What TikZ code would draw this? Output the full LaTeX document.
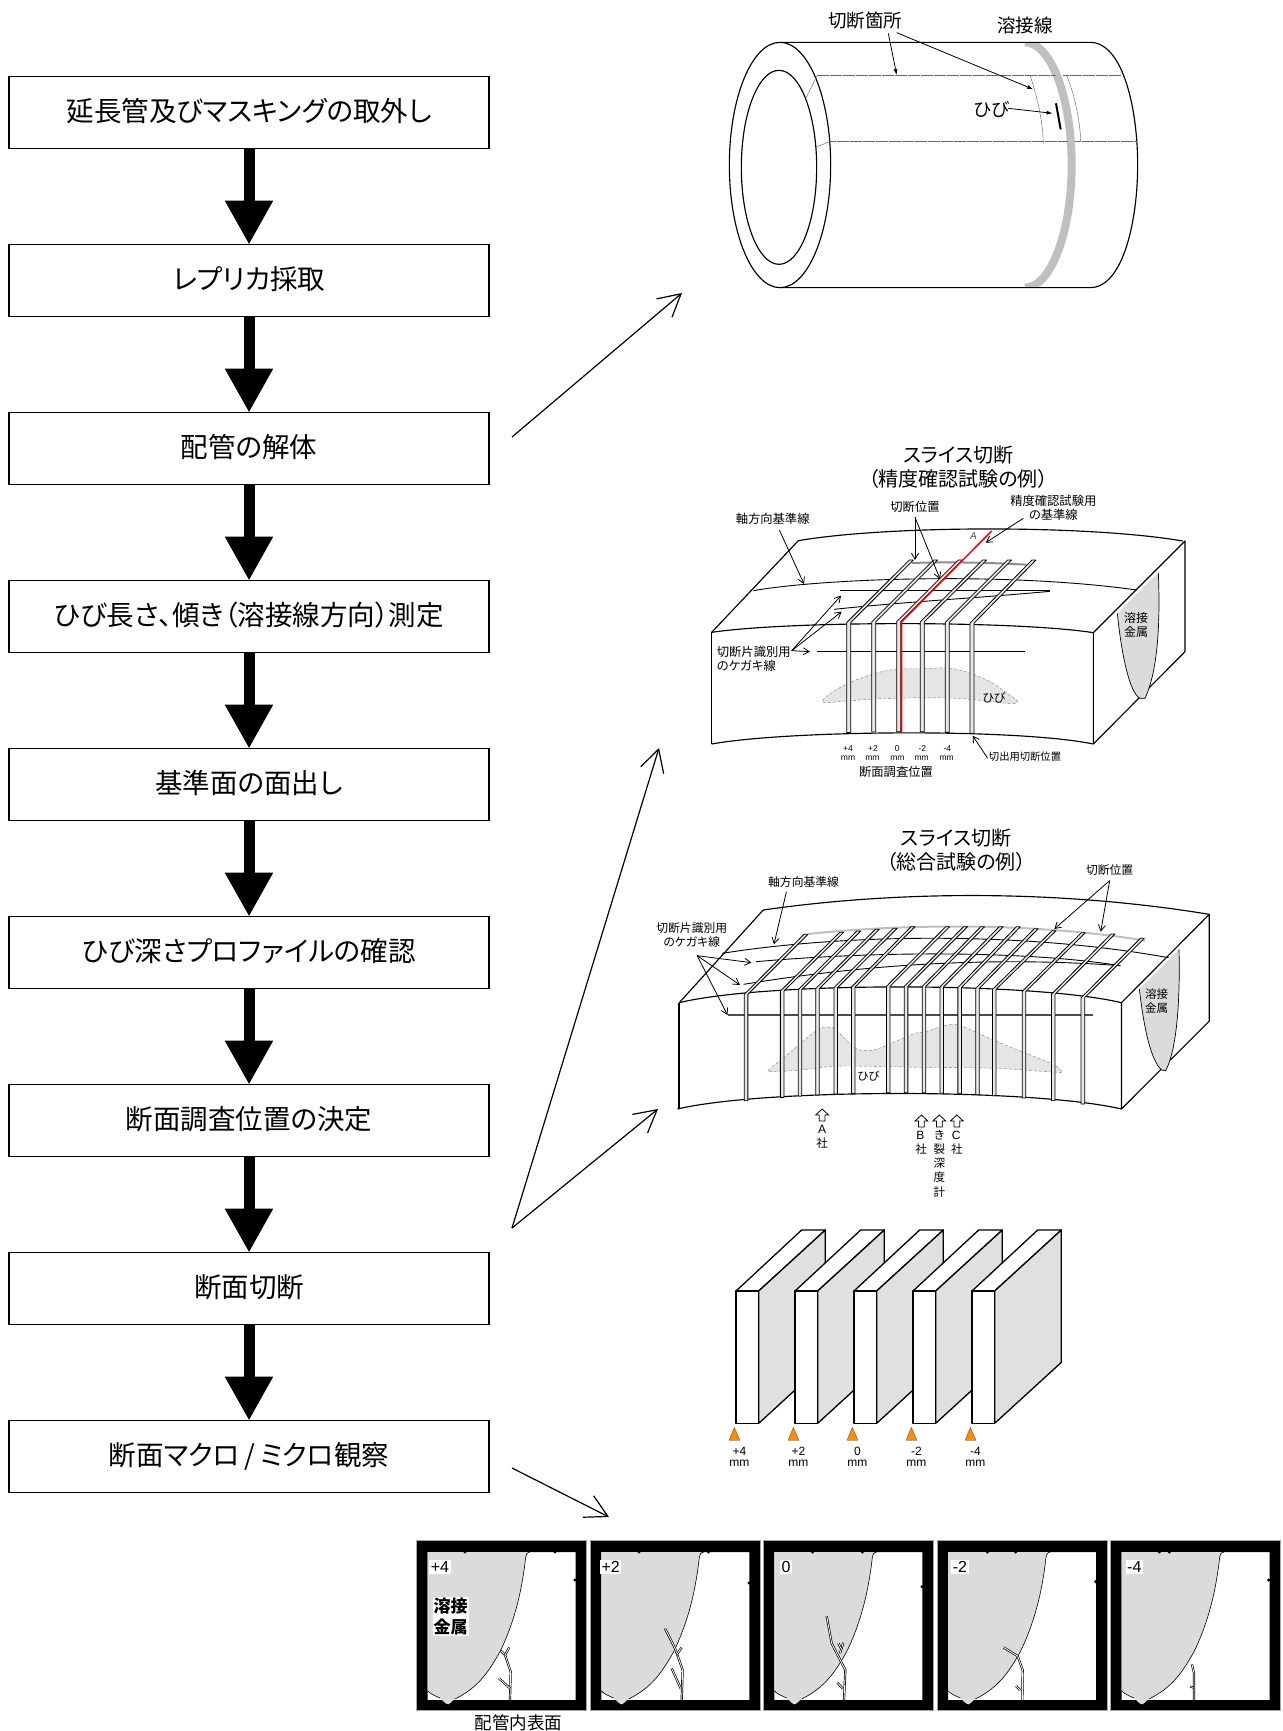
\documentclass[tikz,border=0pt]{standalone}
\usepackage{fontspec}
\setmainfont{Noto Sans CJK JP}[RawFeature=+palt]
\newfontfamily\arialfont{Liberation Sans}
\usetikzlibrary{arrows.meta,calc}
\newcommand\fs[2]{\fontsize{#1}{#2}\selectfont}
\tikzset{
  flowbox/.style={draw,line width=1.2pt,minimum width=480pt,minimum height=72pt,inner sep=0pt,outer sep=0pt,font=\fs{27.5}{30},text height=21pt,text depth=4pt},
  flowarrow/.style={line width=11pt,-{Triangle[width=45pt,length=44pt]}},
  bigarrow/.style={line width=1.2pt,-{Straight Barb[length=22pt,width=24pt,line width=1.2pt]}},
  lead/.style={line width=.8pt,-{Straight Barb[length=6pt,width=7pt]}},
  solidlead/.style={line width=.8pt,-{Latex[length=6pt,width=4pt]}},
  edge/.style={line width=1.15pt,line join=round},
  thinline/.style={line width=.45pt,draw=black!60,dash pattern=on 6pt off .5pt},
  slit/.style={draw,line width=.8pt,fill=black!9,line join=round},
  weldfill/.style={fill=black!14},
  crackfill/.style={fill=black!10,draw=black!50,line width=.4pt,densely dashed},
  lbl/.style={inner sep=0pt,align=center},
  crackline/.style={double=white,double distance=.8pt,line width=.7pt,line join=round,line cap=butt},
  blockedge/.style={line width=1.3pt,line join=round},
  ori/.style={fill=orange!90!yellow,draw=black!70,line width=.3pt},
  upa/.style={draw,fill=white,line width=.8pt,line join=miter},
  dot/.style={fill=black},
  zoomthree/.style={x=.33333pt,y=-.33333pt},
  zoomtwo/.style={x=.35714pt,y=-.33333pt}
}
\begin{document}
\begin{tikzpicture}[x=1pt,y=-1pt]
\path[use as bounding box,fill=white] (0,0) rectangle (1282,1731);

% ---------- flow
\node[flowbox] (b1) at (249,112.7) {延長管及びマスキングの取外し};
\node[flowbox] (b2) at (249,280.7) {レプリカ採取};
\node[flowbox] (b3) at (249,448.7) {配管の解体};
\node[flowbox] (b4) at (249,616.7) {ひび長さ、傾き（溶接線方向）測定};
\node[flowbox] (b5) at (249,784.7) {基準面の面出し};
\node[flowbox] (b6) at (249,952.7) {ひび深さプロファイルの確認};
\node[flowbox] (b7) at (249,1120.7) {断面調査位置の決定};
\node[flowbox] (b8) at (249,1288.7) {断面切断};
\node[flowbox] (b9) at (249,1456.7) {断面マクロ\,/\,ミクロ観察};
\foreach \p/\q in {b1/b2,b2/b3,b3/b4,b4/b5,b5/b6,b6/b7,b7/b8,b8/b9}
  \draw[flowarrow] (\p) -- (\q);

% long arrows
\coordinate (a1s) at (512,437); \coordinate (a1e) at (682,293);
\coordinate (a2s) at (512,1228); \coordinate (a2e) at (659,748);
\coordinate (a3e) at (658,1109);
\coordinate (a4s) at (512,1468); \coordinate (a4e) at (609,1517);
\draw[bigarrow] (a1s) -- (a1e);
\draw[bigarrow] (a2s) -- (a2e);
\draw[bigarrow] (a2s) -- (a3e);
\draw[bigarrow] (a4s) -- (a4e);

% ---------- pipe (zoom 1)
\begin{scope}[shift={(700,0)},zoomthree]
  \begin{scope}
    \clip (900,127) rectangle (1200,863);
    \draw[line width=8pt,draw=black!25] (975,127) .. controls (1052,127) and (1115,293) .. (1115,495) .. controls (1115,697) and (1052,863) .. (975,863);
  \end{scope}
  \draw[edge] (240,127) -- (1170,127) .. controls (1270,127) and (1313,330) .. (1313,495) .. controls (1313,660) and (1270,863) .. (1170,863) -- (240,863);
  \draw[edge,fill=white] (240,495) ellipse [x radius=152,y radius=368];
  \draw[edge,fill=white] (237,502) ellipse [x radius=113,y radius=291];
  \draw[thinline] (350,226) -- (1068,226);
  \draw[thinline] (1090,226) -- (1265,226);
  \draw[thinline] (390,424) -- (1105,424);
  \draw[thinline] (1125,424) -- (1310,424);
  \draw[thinline] (350,228) -- (318,295);
  \draw[thinline] (390,424) -- (348,442);
  \draw[thinline] (990,226) .. controls (1015,300) and (1028,370) .. (1030,430);
  \draw[thinline] (1100,226) .. controls (1125,290) and (1140,360) .. (1142,424);
  \draw[line width=2pt] (1068,310) -- (1082,388);
  \node[lbl,font=\fs{18.5}{20}] (p1) at (495,62) {切断箇所};
  \node[lbl,font=\fs{18.5}{20}] (p2) at (975,75) {溶接線};
  \node[lbl,font=\fs{18.5}{20}] (p3) at (875,330) {ひび};
  \coordinate (p1a) at (565,100); \coordinate (p1b) at (590,98);
  \draw[solidlead] (p1a) -- (590,225);
  \draw[solidlead] (p1b) -- (1000,268);
  \draw[solidlead] (925,325) -- (1058,340);
\end{scope}

% ---------- slice 1 (zoom 2)
\begin{scope}[shift={(690,430)},zoomthree]
  \draw[line width=.9pt] (190,482) .. controls (400,445) and (950,425) .. (1340,480);
  \draw[line width=.9pt] (450,482) -- (1080,482);
  \draw[line width=.9pt] (432,538) .. controls (650,515) and (850,505) .. (1080,484);
  \draw[line width=.9pt] (380,665) -- (1005,665);
  \draw[line width=2pt,draw=black!45] (665,399) .. controls (780,395) and (900,398) .. (1010,404);
  % block
  \draw[edge] (65,607) .. controls (300,572) and (980,572) .. (1210,608) -- (1210,942);
  \draw[edge] (65,942) .. controls (300,900) and (980,895) .. (1210,942);
  \draw[line width=1.6pt] (65,607) -- (65,942);
  \draw[edge] (65,607) -- (325,332) .. controls (600,285) and (1200,285) .. (1478,333);
  \draw[edge] (1210,608) -- (1485,333) -- (1485,665) -- (1210,942);
  % weld
  \fill[weldfill] (1405,428) -- (1282,550) .. controls (1295,680) and (1320,790) .. (1350,805) -- (1365,805) .. controls (1400,730) and (1412,600) .. (1405,428) -- cycle;
  \draw[line width=.7pt] (1282,550) .. controls (1295,680) and (1320,790) .. (1350,805) -- (1365,805) .. controls (1400,730) and (1412,600) .. (1405,428);
  \node[lbl,font=\fs{12}{14}] (w1) at (1338,585) {溶接\\金属};
  % crack
  \draw[crackfill] plot[smooth cycle,tension=.6] coordinates {(397,815) (470,762) (590,722) (700,716) (790,716) (880,745) (945,785) (975,820) (800,805) (600,805) (480,812)};
  \node[lbl,font=\fs{12}{14}] (c1) at (912,803) {ひび};
  % slits
  \foreach \a/\e in {476/665,551/738,626/812,697/885,772/960,846/1033}{
    \pgfmathsetmacro\uu{(\a-637)/572}
    \pgfmathsetmacro\yt{575+33*\uu*\uu}
    \pgfmathsetmacro\yb{905+37*\uu*\uu}
    \draw[slit] (\a-6,\yb) -- (\a-6,\yt) -- (\e-7,390) -- (\e+5,390) -- (\a+6,\yt) -- (\a+6,\yb) -- cycle;
  }
  \draw[draw=red,line width=1.5pt] (635,908) -- (635,575) -- (905,303);
  \node[lbl,font=\fs{10}{11}\itshape\arialfont,text=black!70] (aa) at (850,317) {A};
  % labels
  \node[lbl,font=\fs{20}{24}] (t1) at (805,110) {スライス切断\\（精度確認試験の例）};
  \node[lbl,font=\fs{12.3}{14}] (l1) at (248,265) {軸方向基準線};
  \node[lbl,font=\fs{12.3}{14}] (l2) at (675,230) {切断位置};
  \node[lbl,font=\fs{12.3}{14}] (l3) at (1090,233) {精度確認試験用\\の基準線};
  \node[lbl,font=\fs{12.3}{14},align=left,anchor=west] (l4) at (80,685) {切断片識別用\\のケガキ線};
  \node[lbl,font=\fs{12.3}{14}] (l5) at (618,1025) {断面調査位置};
  \node[lbl,font=\fs{10.3}{12}] (l6) at (1005,980) {切出用切断位置};
  \coordinate (s1) at (675,262); \coordinate (s2) at (305,662);
  \draw[lead] (268,300) -- (342,462);
  \draw[lead] (s1) -- (675,390);
  \draw[lead] (s1) -- (750,447);
  \draw[lead] (1000,265) -- (887,338);
  \draw[lead] (s2) -- (453,497);
  \draw[lead] (s2) -- (455,545);
  \draw[lead] (s2) -- (360,665);
  \draw[lead] (893,985) -- (848,917);
  \foreach \x/\v in {474/+4,549/+2,622/0,697/-2,772/-4}
    \node[lbl,font=\fs{8.5}{9}\arialfont] at (\x,956) {\v};
  \foreach \x in {474,547,622,695,770}
    \node[lbl,font=\fs{8.5}{9}\arialfont] at (\x,984) {mm};
\end{scope}

% ---------- slice 2 (zoom 3)
\begin{scope}[shift={(640,810)},zoomtwo]
  \draw[line width=2pt,draw=black!25] (470,372) .. controls (800,335) and (1150,345) .. (1415,392);
  \draw[line width=.9pt] (230,430) .. controls (550,375) and (1050,360) .. (1480,443);
  \draw[line width=.9pt] (325,455) .. controls (700,420) and (1100,425) .. (1345,467);
  \draw[line width=.9pt] (290,523) .. controls (650,460) and (1000,440) .. (1345,467);
  \draw[line width=1.1pt,draw=black!70] (245,615) -- (1268,615);
  % block
  \draw[edge] (110,578) .. controls (350,515) and (1100,515) .. (1348,578) -- (1348,897);
  \draw[edge] (105,897) .. controls (350,835) and (1100,835) .. (1348,897);
  \draw[line width=1.6pt] (110,578) -- (110,897);
  \draw[edge] (110,578) -- (345,300) .. controls (700,245) and (1150,235) .. (1594,313);
  \draw[edge] (1348,578) -- (1594,313) -- (1594,633) -- (1348,897);
  \draw[crackfill] plot[smooth cycle,tension=.5] coordinates {(360,780) (400,745) (490,665) (520,652) (545,657) (600,712) (630,722) (670,715) (765,672) (800,665) (860,645) (900,648) (1000,695) (1150,760) (1177,780) (1170,787) (1000,775) (800,772) (600,768) (530,770) (450,780) (370,785)};
  \node[lbl,font=\fs{11.5}{14}] (c2) at (640,798) {ひび};
  \foreach \a/\e/\f in {297/465/373,398/565/367,448/613/363,497/665/358,548/715/355,597/765/350,695/862/350,745/912/350,795/960/350,845/1012/350,895/1060/350,945/1110/356,992/1160/362,1075/1242/368,1157/1325/372,1240/1407/385}{
    \pgfmathsetmacro\uu{(\a-727)/620}
    \pgfmathsetmacro\yt{529+50*\uu*\uu}
    \pgfmathsetmacro\yb{848+50*\uu*\uu}
    \draw[slit] (\a-5,\yb) -- (\a-5,\yt) -- (\e-6,\f) -- (\e+5,\f) -- (\a+5,\yt) -- (\a+5,\yb) -- cycle;
  }
  \node[lbl,font=\fs{20}{24}] (t2) at (885,120) {スライス切断\\（総合試験の例）};
  \node[lbl,font=\fs{11.8}{14}] (m1) at (458,215) {軸方向基準線};
  \node[lbl,font=\fs{11.8}{14}] (m2) at (1315,180) {切断位置};
  \node[lbl,font=\fs{11.8}{14}] (m3) at (145,376) {切断片識別用\\のケガキ線};
  \coordinate (s3) at (1315,212); \coordinate (s4) at (160,437);
  \draw[lead] (410,245) -- (375,403);
  \draw[lead] (s3) -- (1160,357);
  \draw[lead] (s3) -- (1290,365);
  \draw[lead] (s4) -- (312,458);
  \draw[lead] (s4) -- (280,525);
  \draw[lead] (s4) -- (245,615);
  % up arrows
  \foreach \x/\y in {510/897,788/915,838/915,887/915}
    \draw[upa] (\x,\y) -- (\x+18,\y+18) -- (\x+8,\y+18) -- (\x+8,\y+36) -- (\x-8,\y+36) -- (\x-8,\y+18) -- (\x-18,\y+18) -- cycle;
  \foreach \x/\y/\v in {510/957/A,785/975/B,885/975/C}
    \node[lbl,font=\fs{12}{12}\arialfont] at (\x,\y) {\v};
  \foreach \x/\y/\v in {510/1000/社,787/1017/社,887/1017/社,838/975/き,838/1018/裂,838/1060/深,838/1102/度,838/1145/計}
    \node[lbl,font=\fs{11.5}{12}] at (\x,\y) {\v};
\end{scope}
% weld of slice 2 (zoom 7)
\begin{scope}[shift={(1100,880)},zoomthree]
  \fill[weldfill] (237,208) -- (118,327) .. controls (130,430) and (150,540) .. (185,570) -- (197,572) .. controls (235,500) and (240,330) .. (237,208) -- cycle;
  \draw[line width=.7pt] (118,327) .. controls (130,430) and (150,540) .. (185,570) -- (197,572) .. controls (235,500) and (240,330) .. (237,208);
  \node[lbl,font=\fs{11.5}{14}] (w2) at (170,363) {溶接\\金属};
\end{scope}

% ---------- cut blocks (zoom 4)
\begin{scope}[shift={(720,1210)},zoomthree]
  \foreach \d/\v in {0/+4,177/+2,354/0,531/-2,708/-4}{
    \begin{scope}[xshift=\d*.33333pt]
      \draw[blockedge,fill=white] (48,243) -- (245,60) -- (316,60) -- (116,243) -- cycle;
      \draw[blockedge,fill=black!12] (116,243) -- (316,60) -- (316,457) -- (116,640) -- cycle;
      \draw[blockedge,fill=white] (48,243) rectangle (116,640);
      \draw[ori] (43,652) -- (60,691) -- (27,691) -- cycle;
      \node[lbl,font=\fs{12}{12}\arialfont] at (58,724) {\v};
      \node[lbl,font=\fs{12}{12}\arialfont] at (58,760) {mm};
    \end{scope}
  }
\end{scope}

% ---------- micrographs
\foreach \xo/\v/\lx in {416.67/+4/70,590.33/+2/61,763.33/0/68,937/-2/69,1110.67/-4/71}{
  \begin{scope}[shift={(\xo,1540.67)},zoomthree]
    \fill[white] (33,34) rectangle (477,478);
    \fill[black,even odd rule] (0,0) rectangle (510,510) (33,34) rectangle (477,478);
    \draw[line width=.4pt,draw=black!35] (0,0) rectangle (510,510);
    \fill[weldfill] (33,34) -- (340,34) .. controls (330,36) and (328,42) .. (327,50) .. controls (318,130) and (300,230) .. (250,333) .. controls (215,395) and (185,440) .. (115,475) .. controls (105,480) and (102,490) .. (95,491) .. controls (85,490) and (80,480) .. (70,472) .. controls (55,465) and (40,460) .. (33,450) -- cycle;
    \draw[line width=.6pt] (340,34) .. controls (330,36) and (328,42) .. (327,50) .. controls (318,130) and (300,230) .. (250,333) .. controls (215,395) and (185,440) .. (115,475);
    \draw[line width=.6pt] (33,450) .. controls (40,460) and (55,465) .. (70,472);
    \node[lbl,fill=white,inner sep=1.5pt,font=\fs{16}{16}\arialfont] at (\lx,78) {\v};
  \end{scope}
}
\begin{scope}[shift={(410,1530)},zoomthree]
  \foreach \x/\y in {165/66,435/66,495/150,687/66,895/66,1017/159} \fill[dot] (\x,\y) circle [radius=5];
  \draw[crackline] (300,510) -- (302,425) -- (285,375) -- (272,362);
  \draw[crackline] (285,375) -- (298,352);
  \draw[crackline] (300,475) -- (267,445);
  \draw[crackline] (815,510) -- (818,420) -- (795,355) -- (765,295);
  \draw[crackline] (800,375) -- (815,352);
  \draw[crackline] (812,475) -- (785,415);
  \node[lbl,fill=white,inner sep=1pt,font=\fs{17}{21}\bfseries] (w3) at (122,260) {溶接\\金属};
  \node[lbl,font=\fs{17.5}{20}] (r1) at (325,577) {配管内表面};
\end{scope}
\begin{scope}[shift={(760,1530)},zoomthree]
  \foreach \x/\y in {158/66,307/66,486/170,682/66,767/66,1007/155,1198/66,1228/66,1526/150} \fill[dot] (\x,\y) circle [radius=5];
  \draw[crackline] (252,510) -- (256,420) -- (215,340) -- (200,258);
  \draw[crackline] (240,370) -- (250,338);
  \draw[crackline] (243,355) -- (235,340);
  \draw[crackline] (248,475) -- (232,458);
  \draw[crackline] (787,510) -- (788,420) -- (773,378) -- (730,352);
  \draw[crackline] (780,480) -- (768,468);
  \draw[crackline] (1302,510) -- (1302,430) -- (1296,403);
  \draw[crackline] (1300,472) -- (1290,470);
\end{scope}
\end{tikzpicture}
\end{document}
